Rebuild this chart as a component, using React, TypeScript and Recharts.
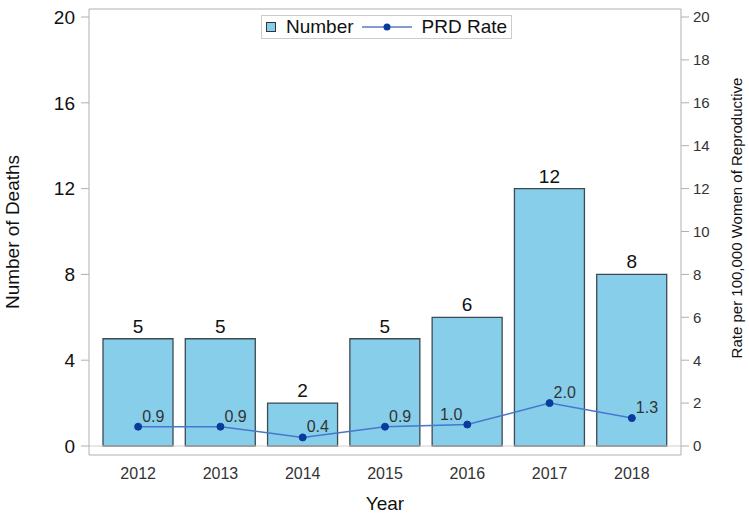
import {
  Bar,
  ComposedChart,
  LabelList,
  Line,
  ReferenceLine,
  XAxis,
  YAxis,
  Label,
} from "recharts";

const years = ["2012", "2013", "2014", "2015", "2016", "2017", "2018"];
const deaths = [5, 5, 2, 5, 6, 12, 8];
const prdRate = [0.9, 0.9, 0.4, 0.9, 1.0, 2.0, 1.3];
const leftTicks = [0, 4, 8, 12, 16, 20];
const rightTicks = [0, 2, 4, 6, 8, 10, 12, 14, 16, 18, 20];

const data = years.map((year, i) => ({ year, number: deaths[i], rate: prdRate[i] }));

const FONT = "'Liberation Sans', Arial, sans-serif";
const FRAME = "#b0b0b0";
const BAR_FILL = "#87CEEB";
const LINE_COLOR = "#4677cc";
const DOT_COLOR = "#0a3a9c";
const DOMAIN: [number, number] = [-0.42, 20.373];

function LegendBox() {
  return (
    <div
      style={{
        position: "absolute",
        left: 261,
        top: 15,
        display: "flex",
        alignItems: "center",
        border: "1px solid #ccc",
        background: "#fff",
        height: 24,
        width: 251,
        boxSizing: "border-box",
        fontFamily: FONT,
        fontSize: 19,
        color: "#111",
      }}
    >
      <span
        style={{
          display: "inline-block",
          width: 8,
          height: 8,
          background: BAR_FILL,
          border: "1px solid #333",
          marginLeft: 4,
          marginRight: 10,
        }}
      />
      <span>Number</span>
      <svg width={52} height={12} style={{ marginLeft: 8, marginRight: 8 }}>
        <line x1={0} y1={6} x2={50} y2={6} stroke={DOT_COLOR} strokeWidth={1} />
        <circle cx={25} cy={6} r={3.5} fill={DOT_COLOR} />
      </svg>
      <span>PRD Rate</span>
    </div>
  );
}

function RateLabel(props: any) {
  const { x, y, value, index } = props;
  const left = index === 4;
  return (
    <text
      x={left ? x - 5 : x + 4}
      y={y - 5}
      textAnchor={left ? "end" : "start"}
      fontSize={16}
      fontFamily={FONT}
      fill="#333"
    >
      {Number(value).toFixed(1)}
    </text>
  );
}

export default function App() {
  return (
    <div style={{ position: "absolute", left: 0, top: 0, background: "#fff" }}>
      <ComposedChart
        width={749}
        height={514}
        data={data}
        margin={{ top: 9, right: 0, bottom: 0, left: 0 }}
        style={{ fontFamily: FONT }}
      >
        <XAxis
          dataKey="year"
          height={59}
          padding={{ left: 8, right: 8 }}
          axisLine={{ stroke: FRAME }}
          tickLine={false}
          tick={{ fontSize: 16, fill: "#333" }}
          tickMargin={7}
        >
          <Label value="Year" position="insideBottom" offset={4} fontSize={19} fill="#111" />
        </XAxis>
        <YAxis
          yAxisId="left"
          width={89}
          domain={DOMAIN}
          allowDataOverflow
          ticks={leftTicks}
          axisLine={{ stroke: FRAME }}
          tickLine={{ stroke: FRAME }}
          tickSize={8}
          tick={{ fontSize: 19, fill: "#111" }}
          tickMargin={6}
        >
          <Label
            value="Number of Deaths"
            angle={-90}
            position="insideLeft"
            offset={12}
            fontSize={19}
            fill="#111"
            style={{ textAnchor: "middle" }}
          />
        </YAxis>
        <YAxis
          yAxisId="right"
          orientation="right"
          width={68}
          domain={DOMAIN}
          allowDataOverflow
          ticks={rightTicks}
          axisLine={{ stroke: FRAME }}
          tickLine={{ stroke: FRAME }}
          tickSize={8}
          tick={{ fontSize: 15, fill: "#333" }}
          tickMargin={4}
        >
          <Label
            value="Rate per 100,000 Women of Reproductive"
            angle={-90}
            position="insideRight"
            offset={12}
            dy={-14}
            fontSize={15}
            fill="#111"
            style={{ textAnchor: "middle" }}
          />
        </YAxis>
        <ReferenceLine yAxisId="left" y={DOMAIN[1]} stroke={FRAME} ifOverflow="extendDomain" />
        <ReferenceLine yAxisId="left" y={0} stroke="#d0d0d0" />
        <Bar
          yAxisId="left"
          dataKey="number"
          name="Number"
          fill={BAR_FILL}
          stroke="#3d4a50"
          strokeWidth={1.3}
          barSize={70}
          isAnimationActive={false}
        >
          <LabelList dataKey="number" position="top" offset={6} fontSize={19} fill="#111" />
        </Bar>
        <Line
          yAxisId="right"
          dataKey="rate"
          name="PRD Rate"
          stroke={LINE_COLOR}
          strokeWidth={1.5}
          dot={{ r: 3.5, fill: DOT_COLOR, stroke: DOT_COLOR, strokeWidth: 1 }}
          activeDot={false}
          isAnimationActive={false}
        >
          <LabelList dataKey="rate" content={RateLabel} />
        </Line>
      </ComposedChart>
      <LegendBox />
    </div>
  );
}
